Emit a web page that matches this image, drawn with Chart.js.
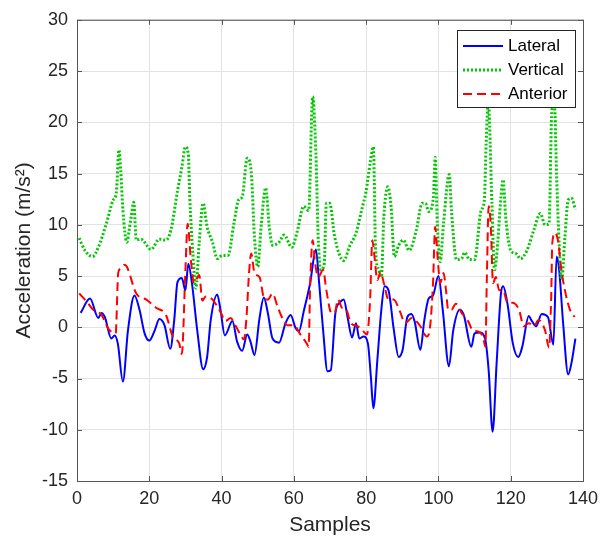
<!DOCTYPE html>
<html>
<head>
<meta charset="utf-8">
<script src="https://cdn.jsdelivr.net/npm/chart.js@4.4.1/dist/chart.umd.min.js"></script>
<style>
  html, body { margin: 0; padding: 0; background: #fff; }
  #wrap { width: 606px; height: 539px; }
</style>
</head>
<body>
<div id="wrap"><canvas id="accel-chart"></canvas></div>
<script>
// Series values (sample index, m/s^2)
const lateralX = [1, 3.6, 5.9, 6.8, 7.7, 9.5, 10.4, 11.3, 12.7, 14.1, 15.9, 17.3, 18.7, 20, 21.4, 22.8, 24.2, 25.8, 26.9, 27.8, 29, 30, 30.8, 31.8, 33.3, 34.9, 36, 37, 38.8, 39.7, 40.9, 43, 44.3, 45.7, 47.1, 48, 49.1, 50.5, 51.7, 52.8, 54.1, 55.9, 57.7, 59.1, 60.5, 61.4, 62.7, 64.5, 66.1, 67, 68.1, 69.3, 70.2, 71.5, 72.7, 73.8, 74.9, 76.1, 77.2, 78.1, 79.3, 80.5, 81.3, 82, 83.1, 84.2, 85.1, 86.2, 87.6, 89, 90.1, 91.4, 92.5, 93.4, 95, 96.1, 97.3, 98.5, 100, 101.2, 102.9, 104.1, 105.9, 107, 109.1, 110, 111.4, 112.9, 113.9, 115, 116.1, 117.3, 117.9, 119.1, 120.6, 122.1, 123.2, 125, 125.7, 127, 128.6, 130.3, 131.8, 132.7, 133.4, 134.5, 135.9, 136.8, 137.9];
const lateralY = [1.4, 2.8, 0.9, 1.4, 1.0, -1.1, -0.8, -1.6, -5.3, -0.3, 3.1, 1.7, -0.6, -1.3, -0.4, 0.8, 0.2, -2.1, 0.7, 4.4, 4.8, 3.6, 6.2, 4.3, -0.4, -4.1, -2.9, 0.7, 3.2, 1.7, -0.8, 0.6, -1.4, -2.3, -0.7, -1.4, -2.7, 0.9, 2.9, 1.4, -1.1, -1.5, 0.4, 1.2, -0.1, -0.4, 1.5, 4.3, 7.6, 4.3, -0.3, -4.3, -4.2, 1.4, 2.4, 2.7, 0.9, -1.0, 0.4, -1.1, -0.9, -1.6, -4.8, -7.9, -3.2, 1.7, 4.0, 3.6, -0.1, -2.9, -2.2, 1.0, 1.3, 0.6, -2.2, 0.7, 2.8, 3.1, 5.0, 1.7, -3.8, -0.3, 1.7, 1.2, -1.9, -0.6, -0.5, -1.1, -4.2, -10.2, -3.5, 3.3, 4.0, 2.3, -1.6, -2.9, -1.9, 1.1, 0.7, 0.1, 1.3, 1.0, -1.7, 6.9, 5.6, 0.4, -4.6, -3.5, -1.1];

const verticalX = [0.6, 2.2, 4.3, 5.9, 8.1, 10, 10.9, 11.6, 12.1, 12.7, 13.8, 14.4, 15, 15.7, 16.4, 17.7, 20.5, 22.8, 24.6, 26, 27.8, 29, 30, 30.8, 31.2, 32, 32.9, 33.8, 34.9, 36, 37.5, 38.8, 40.2, 41.8, 43.4, 44.8, 45.7, 47.1, 48.2, 49.1, 50, 51, 52.2, 53.2, 54.1, 55.9, 57.3, 59.4, 60.9, 62.7, 64.1, 65.2, 66.1, 66.8, 67.5, 68.4, 69, 69.9, 71.3, 73.8, 75.4, 77.2, 79, 79.9, 81.1, 82, 82.6, 83.5, 84.2, 84.9, 86, 86.9, 87.8, 89, 90.3, 91.9, 93.9, 95.5, 96.4, 97.3, 98.6, 99.1, 99.7, 100.5, 101.4, 103, 103.6, 105, 106.4, 107.3, 108.6, 110, 111.8, 112.7, 113.2, 113.8, 114.8, 115.5, 116.1, 117.3, 117.9, 118.6, 120, 121.4, 122.7, 124.5, 126.4, 128.2, 129.5, 130.6, 131.4, 132.1, 132.7, 133.4, 134.1, 135, 135.9, 136.8, 137.9];
const verticalY = [8.7, 7.5, 6.9, 7.8, 10.1, 12.4, 13.2, 17.3, 15.3, 11.4, 8.3, 9.4, 10.8, 12.2, 8.5, 8.6, 7.6, 8.6, 8.5, 9.5, 13.3, 15.6, 17.6, 16.9, 12.7, 7.5, 3.8, 8.2, 12.1, 9.8, 8.3, 6.7, 7.0, 7.0, 10.1, 12.5, 12.7, 16.5, 15.2, 8.8, 5.9, 10.1, 13.6, 9.8, 8.0, 8.3, 9.0, 7.8, 9.3, 11.8, 11.4, 22.5, 16.9, 8.2, 5.6, 6.2, 12.1, 12.1, 8.8, 6.5, 7.9, 9.2, 11.8, 13.1, 16.0, 17.6, 7.5, 5.6, 4.9, 10.8, 13.7, 11.8, 6.9, 8.0, 8.5, 7.5, 9.5, 12.1, 12.1, 11.3, 12.7, 16.6, 10.1, 6.4, 10.1, 14.9, 11.4, 6.6, 6.7, 7.3, 6.6, 6.6, 11.4, 12.4, 17.9, 22.0, 12.1, 5.6, 6.9, 12.7, 14.4, 10.8, 7.5, 7.2, 6.7, 7.5, 9.5, 11.1, 10.0, 10.1, 21.2, 21.6, 14.7, 8.2, 4.6, 8.8, 12.4, 12.6, 11.5];

const anteriorX = [0.6, 2.7, 4.5, 6.8, 8.6, 10.7, 11.4, 12, 13.2, 13.8, 16.4, 19.2, 21.9, 24.6, 26.5, 28.3, 29, 30, 30.6, 31.5, 32.4, 33.8, 34.7, 35.6, 37.5, 39.7, 41.1, 42.5, 43.8, 45.2, 46.2, 46.9, 47.6, 48.2, 49.1, 50.5, 51.9, 52.8, 54.1, 55.5, 56.8, 58.2, 60, 61.8, 63.6, 64.1, 64.5, 65.2, 65.9, 66.8, 68.1, 69, 70.4, 71.3, 72.2, 73.3, 74.5, 75.8, 77.6, 79, 80.2, 81.1, 81.7, 82.3, 83.1, 84, 84.9, 86.2, 87.6, 89.4, 90.8, 92.6, 93.6, 95, 96.8, 97.7, 98.5, 99.1, 99.7, 100.5, 101.4, 102.1, 102.7, 103.6, 104.8, 106.4, 108.2, 109.5, 110.9, 112.3, 113, 113.4, 113.9, 114.5, 115.1, 115.9, 116.8, 117.9, 119.1, 120.5, 122.3, 123.6, 125, 126.4, 127.7, 129.5, 130.6, 131.2, 131.5, 132.3, 133.2, 133.9, 135, 136.4, 137.7];
const anteriorY = [3.3, 2.5, 1.7, 1.2, -0.1, -0.6, 5.3, 5.7, 6.1, 5.9, 3.3, 2.7, 1.9, 1.2, -0.9, -1.6, -2.6, 5.6, 10.1, 6.6, 4.3, 5.1, 2.6, 3.0, 2.7, 1.5, 0.6, 0.9, 0.2, -0.7, -1.2, 1.0, 5.3, 7.2, 5.3, 4.9, 2.7, 2.7, 3.3, 2.0, 0.9, 0.2, 0.2, -0.7, -1.6, -1.9, 4.0, 8.5, 6.2, 4.9, 5.6, 3.6, 1.4, 1.4, 2.7, 1.9, 1.7, 0.4, 0.1, -0.3, -0.7, 2.7, 8.5, 6.9, 4.6, 5.4, 4.3, 2.7, 2.7, 1.5, 0.4, 0.9, 0.7, 0.1, -0.9, 0.1, 4.3, 9.8, 7.2, 4.3, 5.3, 3.6, 1.7, 1.7, 2.3, 1.4, 0.6, -0.3, -0.4, -0.9, -1.9, 4.9, 11.8, 9.8, 4.3, 4.9, 3.6, 3.6, 2.4, 2.4, 1.7, 0.1, 0.4, 0.1, 0.7, -0.3, -2.0, 3.0, 8.2, 9.2, 8.2, 5.9, 3.6, 1.7, 1.0];

// Axis ticks
const xTicks = [0, 20, 40, 60, 80, 100, 120, 140];
const yTicks = [-15, -10, -5, 0, 5, 10, 15, 20, 25, 30];

const toPoints = (xs, ys) => xs.map((x, i) => ({ x: x, y: ys[i] }));

const seriesStyle = [
  { label: "Lateral", color: "#0000ff", dash: [], width: 2 },
  { label: "Vertical", color: "#00c800", dash: [2, 2], width: 3 },
  { label: "Anterior", color: "#ff0000", dash: [9, 5], width: 2 },
];

const fontFamily = "'Liberation Sans', Arial, Helvetica, sans-serif";
const textColor = "#262626";

// box around the axes, inward tick marks and the matlab-like legend
const axesBox = {
  id: "axesBox",
  afterDraw(chart) {
    const ctx = chart.ctx;
    const a = chart.chartArea;
    const xs = chart.scales.x;
    const ys = chart.scales.y;
    ctx.save();
    ctx.strokeStyle = "#555";
    ctx.lineWidth = 1;
    ctx.strokeRect(a.left + 0.5, a.top + 0.5, a.right - a.left, a.bottom - a.top);
    ctx.beginPath();
    xTicks.forEach((v) => {
      const px = Math.round(xs.getPixelForValue(v)) + 0.5;
      ctx.moveTo(px, a.bottom);
      ctx.lineTo(px, a.bottom - 5);
      ctx.moveTo(px, a.top);
      ctx.lineTo(px, a.top + 5);
    });
    yTicks.forEach((v) => {
      const py = Math.round(ys.getPixelForValue(v)) + 0.5;
      ctx.moveTo(a.left, py);
      ctx.lineTo(a.left + 5, py);
      ctx.moveTo(a.right, py);
      ctx.lineTo(a.right - 5, py);
    });
    ctx.stroke();

    // legend
    const lx = 457, ly = 30, lw = 118, lh = 77;
    ctx.fillStyle = "#fff";
    ctx.fillRect(lx, ly, lw, lh);
    ctx.strokeStyle = "#262626";
    ctx.strokeRect(lx + 0.5, ly + 0.5, lw, lh);
    ctx.font = "17px " + fontFamily;
    ctx.textBaseline = "middle";
    ctx.textAlign = "left";
    seriesStyle.forEach((s, i) => {
      const y = ly + 16 + i * 24;
      ctx.beginPath();
      ctx.strokeStyle = s.color;
      ctx.lineWidth = s.width;
      ctx.setLineDash(s.dash);
      ctx.moveTo(lx + 6, y);
      ctx.lineTo(lx + 46, y);
      ctx.stroke();
      ctx.setLineDash([]);
      ctx.fillStyle = "#000";
      ctx.fillText(s.label, lx + 51, y);
    });
    ctx.restore();
  },
};

const ctx = document.getElementById("accel-chart").getContext("2d");

new Chart(ctx, {
  type: "line",
  data: {
    datasets: [
      {
        label: "Lateral",
        data: toPoints(lateralX, lateralY),
        borderColor: seriesStyle[0].color,
        borderWidth: seriesStyle[0].width,
        order: 3,
      },
      {
        label: "Vertical",
        data: toPoints(verticalX, verticalY),
        borderColor: seriesStyle[1].color,
        borderWidth: seriesStyle[1].width,
        borderDash: seriesStyle[1].dash,
        order: 2,
      },
      {
        label: "Anterior",
        data: toPoints(anteriorX, anteriorY),
        borderColor: seriesStyle[2].color,
        borderWidth: seriesStyle[2].width,
        borderDash: seriesStyle[2].dash,
        order: 1,
      },
    ],
  },
  options: {
    responsive: true,
    maintainAspectRatio: false,
    animation: false,
    devicePixelRatio: 1,
    elements: {
      point: { radius: 0 },
      line: { cubicInterpolationMode: "monotone", fill: false },
    },
    layout: { padding: { left: 0, right: 23, top: 19, bottom: 0 } },
    plugins: {
      legend: { display: false },
      tooltip: { enabled: false },
    },
    scales: {
      x: {
        type: "linear",
        min: 0,
        max: 140,
        afterBuildTicks: (scale) => {
          scale.ticks = xTicks.map((v) => ({ value: v }));
        },
        afterFit: (scale) => {
          scale.height = 58;
        },
        grid: { color: "#e3e3e3", drawTicks: false },
        border: { display: false },
        ticks: {
          color: textColor,
          padding: 7,
          font: { family: fontFamily, size: 18 },
          maxRotation: 0,
        },
        title: {
          display: true,
          text: "Samples",
          color: textColor,
          font: { family: fontFamily, size: 21 },
          padding: { top: 0, bottom: 1 },
        },
      },
      y: {
        type: "linear",
        min: -15,
        max: 30,
        afterBuildTicks: (scale) => {
          scale.ticks = yTicks.map((v) => ({ value: v }));
        },
        afterFit: (scale) => {
          scale.width = 77;
        },
        grid: { color: "#e3e3e3", drawTicks: false },
        border: { display: false },
        ticks: {
          color: textColor,
          padding: 9,
          font: { family: fontFamily, size: 18 },
        },
        title: {
          display: true,
          text: "Acceleration (m/s²)",
          color: textColor,
          font: { family: fontFamily, size: 21 },
          padding: { top: 12, bottom: 0 },
        },
      },
    },
  },
  plugins: [axesBox],
});
</script>
</body>
</html>
